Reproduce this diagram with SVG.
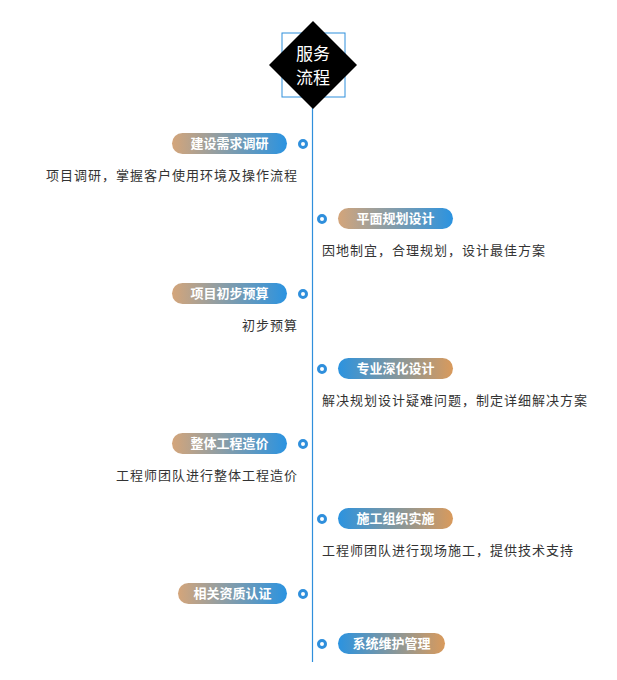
<svg xmlns="http://www.w3.org/2000/svg" width="617" height="680" viewBox="0 0 617 680">
<style>
.pt{font-family:"Noto Sans CJK SC","Liberation Sans",sans-serif;font-size:13px;font-weight:bold;fill:#fff;text-anchor:middle}
.d{font-family:"Noto Sans CJK SC","Liberation Sans",sans-serif;font-size:13px;fill:#333;letter-spacing:1px}
.dot{fill:#fff;stroke:#2f8fdc;stroke-width:3}
</style>
<defs>
<linearGradient id="tb" x1="0" x2="1" y1="0" y2="0"><stop offset="0" stop-color="#d4a57a"/><stop offset="1" stop-color="#2b93e0"/></linearGradient>
<linearGradient id="bt" x1="0" x2="1" y1="0" y2="0"><stop offset="0" stop-color="#2b93e0"/><stop offset="1" stop-color="#d99a5c"/></linearGradient>
</defs>
<g id="connectors"><line x1="312.5" y1="108" x2="312.5" y2="662" stroke="#2f8fdc" stroke-width="1.2"/></g>
<g id="title">
<rect x="282" y="33" width="63" height="64" fill="none" stroke="#2f8fdc" stroke-width="1"/>
<polygon points="313,21 357,65 313,109 269,65" fill="#000"/>
<text x="313" y="60" class="pt" font-size="17" style="font-size:17px;font-weight:normal">服务</text>
<text x="313" y="84" class="pt" style="font-size:17px;font-weight:normal">流程</text>
</g>
<g id="n1"><rect x="172" y="133" width="115" height="21" rx="10.5" fill="url(#tb)"/><text x="229.5" y="148" class="pt">建设需求调研</text><circle cx="303" cy="144" r="3.5" class="dot"/><text x="298" y="180" class="d" text-anchor="end">项目调研，掌握客户使用环境及操作流程</text></g>
<g id="n2"><circle cx="322" cy="219" r="3.5" class="dot"/><rect x="338" y="208" width="115" height="21" rx="10.5" fill="url(#tb)"/><text x="395.5" y="223" class="pt">平面规划设计</text><text x="322" y="255" class="d">因地制宜，合理规划，设计最佳方案</text></g>
<g id="n3"><rect x="172" y="283" width="115" height="21" rx="10.5" fill="url(#tb)"/><text x="229.5" y="298" class="pt">项目初步预算</text><circle cx="303" cy="294" r="3.5" class="dot"/><text x="298" y="330" class="d" text-anchor="end">初步预算</text></g>
<g id="n4"><circle cx="322" cy="369" r="3.5" class="dot"/><rect x="338" y="358" width="115" height="21" rx="10.5" fill="url(#bt)"/><text x="395.5" y="373" class="pt">专业深化设计</text><text x="322" y="405" class="d">解决规划设计疑难问题，制定详细解决方案</text></g>
<g id="n5"><rect x="172" y="433" width="115" height="21" rx="10.5" fill="url(#tb)"/><text x="229.5" y="448" class="pt">整体工程造价</text><circle cx="303" cy="444" r="3.5" class="dot"/><text x="298" y="480" class="d" text-anchor="end">工程师团队进行整体工程造价</text></g>
<g id="n6"><circle cx="322" cy="519" r="3.5" class="dot"/><rect x="338" y="508" width="115" height="21" rx="10.5" fill="url(#bt)"/><text x="395.5" y="523" class="pt">施工组织实施</text><text x="322" y="555" class="d">工程师团队进行现场施工，提供技术支持</text></g>
<g id="n7"><rect x="178" y="583" width="109" height="21" rx="10.5" fill="url(#tb)"/><text x="232.5" y="598" class="pt">相关资质认证</text><circle cx="303" cy="594" r="3.5" class="dot"/></g>
<g id="n8"><circle cx="322" cy="644" r="3.5" class="dot"/><rect x="338" y="633" width="107" height="21" rx="10.5" fill="url(#bt)"/><text x="391.5" y="648" class="pt">系统维护管理</text></g>
</svg>
